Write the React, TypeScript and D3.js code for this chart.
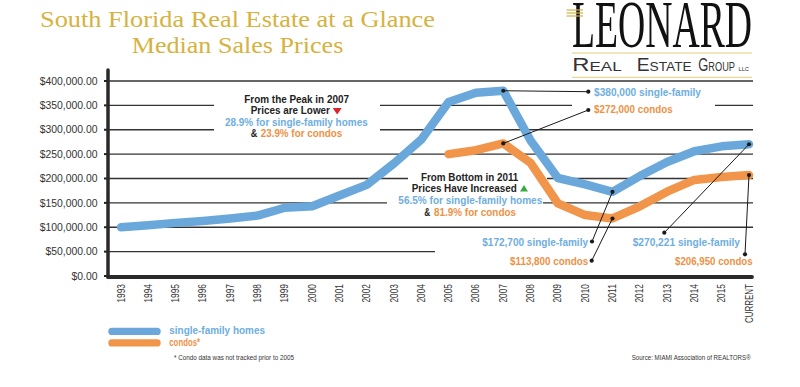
import React from 'react';
import * as d3 from 'd3';

// median sales prices
const categories = ['1993', '1994', '1995', '1996', '1997', '1998', '1999', '2000', '2001', '2002', '2003', '2004',
  '2005', '2006', '2007', '2008', '2009', '2010', '2011', '2012', '2013', '2014', '2015', 'CURRENT'];
const singleFamily = [100000, 104000, 109000, 113000, 118000, 124000, 140000, 143000, 165000, 187000, 231000, 280000,
  357000, 376000, 380000, 278000, 201000, 188000, 172700, 205000, 234000, 256000, 266000, 270221];
// condo data not tracked before 2005
const condos: (number | null)[] = [null, null, null, null, null, null, null, null, null, null, null, null,
  250000, 258000, 272000, 232000, 149000, 125000, 118000, 143000, 173000, 197000, 203000, 206950];
const yTicks = [0, 50000, 100000, 150000, 200000, 250000, 300000, 350000, 400000];

const peakNote = ['From the Peak in 2007', 'Prices are Lower', '28.9% for single-family homes', '23.9% for condos'];
const bottomNote = ['From Bottom in 2011', 'Prices Have Increased', '56.5% for single-family homes', '81.9% for condos'];

const BLUE = '#6aa8dc';
const BLUE_TXT = '#6eaee0';
const ORANGE = '#f0954a';
const ORANGE_TXT = '#ee9145';
const GOLD = '#d6b240';
const SANS = "'Liberation Sans', Arial, Helvetica, sans-serif";
const SERIF = "'Liberation Serif', 'Times New Roman', serif";

const W = 800, H = 387;

const x = d3.scalePoint<string>().domain(categories).range([121, 749]);
const y = d3.scaleLinear().domain([0, 400000]).range([276, 81]);
const fmt = (v: number) => '$' + d3.format(',.2f')(v);

const lineGen = d3.line<number | null>()
  .defined(d => d != null)
  .x((_, i) => x(categories[i]) as number)
  .y(d => y(d as number));

// callouts: label + where its dot sits, tied to a data point
const callouts = [
  { text: '$380,000 single-family', color: BLUE_TXT, data: singleFamily, cat: '2007', tx: 594, ty: 95.5, tw: 107, dx: 588.3, dy: 91.7 },
  { text: '$272,000 condos', color: ORANGE_TXT, data: condos, cat: '2007', tx: 594, ty: 113.3, tw: 78.7, dx: 588.3, dy: 110 },
  { text: '$172,700 single-family', color: BLUE_TXT, data: singleFamily, cat: '2011', tx: 482.3, ty: 245.5, tw: 105.7, dx: 592, dy: 241.5 },
  { text: '$113,800 condos', color: ORANGE_TXT, data: condos, cat: '2011', tx: 510, ty: 264.5, tw: 78.3, dx: 591.7, dy: 260.7 },
  { text: '$270,221 single-family', color: BLUE_TXT, data: singleFamily, cat: 'CURRENT', tx: 632.7, ty: 245.5, tw: 107.3, dx: 664.3, dy: 232.7 },
  { text: '$206,950 condos', color: ORANGE_TXT, data: condos, cat: 'CURRENT', tx: 675, ty: 264.5, tw: 77.7, dx: 745, dy: 254.3 },
];

const Txt = ({ x, y, w, size = 11, fill = '#222', weight = 'bold', family = SANS, children }: any) => (
  <text x={x} y={y} fontSize={size} fill={fill} fontWeight={weight} fontFamily={family}
    textLength={w} lengthAdjust="spacingAndGlyphs">{children}</text>
);

export default function App() {
  const x0 = 108, x1 = 753;

  return (
    <svg width={W} height={H} style={{ position: 'absolute', left: 0, top: 0, background: '#fff' }}>
      <rect width={W} height={H} fill="#fff" />

      {/* title */}
      <Txt x={40} y={26.7} w={395} size={24} fill={GOLD} weight="normal" family={SERIF}>South Florida Real Estate at a Glance</Txt>
      <Txt x={131.7} y={53.3} w={211.6} size={24} fill={GOLD} weight="normal" family={SERIF}>Median Sales Prices</Txt>

      {/* logo */}
      <g>
        <text transform="translate(572,47) scale(1,1.45)" fontSize={46} fill="#111" fontFamily={SERIF}
          textLength={180} lengthAdjust="spacingAndGlyphs">LEONARD</text>
        {[10, 13, 16].map(v => <line key={v} x1={566.5} x2={583} y1={v} y2={v} stroke={GOLD} strokeWidth={1.2} />)}
        <line x1={572} x2={752} y1={53} y2={53} stroke="#e2cd7c" strokeWidth={1} />
        <line x1={572} x2={752} y1={77.3} y2={77.3} stroke="#e2cd7c" strokeWidth={1} />
        <text x={572.3} y={71} fill="#333" fontFamily={SANS} fontWeight="normal" textLength={49.4} lengthAdjust="spacingAndGlyphs">
          <tspan fontSize={17.5}>R</tspan><tspan fontSize={12.5}>EAL</tspan></text>
        <text x={636.7} y={71} fill="#333" fontFamily={SANS} textLength={55} lengthAdjust="spacingAndGlyphs">
          <tspan fontSize={17.5}>E</tspan><tspan fontSize={12.5}>STATE</tspan></text>
        <text x={698.3} y={71} fill="#333" fontFamily={SANS} textLength={36.7} lengthAdjust="spacingAndGlyphs">
          <tspan fontSize={17.5}>G</tspan><tspan fontSize={12.5}>ROUP</tspan></text>
        <text x={738.5} y={71} fill="#333" fontFamily={SANS} fontSize={5.5} textLength={10.5} lengthAdjust="spacingAndGlyphs">LLC</text>
      </g>

      {/* grid + y labels */}
      {yTicks.map(t => (
        <g key={t}>
          {t > 0 && <line x1={x0} x2={x1} y1={y(t)} y2={y(t)} stroke="#333" strokeWidth={1.3} />}
          <line x1={104} x2={x0} y1={y(t)} y2={y(t)} stroke="#222" strokeWidth={2} />
          <text x={97.5} y={y(t)} dy="0.36em" textAnchor="end" fontSize={10.4} fill="#333" fontFamily={SANS}>{fmt(t)}</text>
        </g>
      ))}

      {/* gaps in the grid behind the notes */}
      <rect x={214} y={96} width={166} height={38} fill="#fff" />
      <rect x={572} y={100} width={143} height={10} fill="#fff" />
      <rect x={408} y={174} width={139} height={9} fill="#fff" />
      <rect x={387} y={198} width={156} height={9} fill="#fff" />
      <rect x={435} y={247} width={320} height={9} fill="#fff" />

      {/* axes */}
      <line x1={x0} x2={x0} y1={70} y2={277} stroke="#2a2a2a" strokeWidth={3.5} strokeLinecap="round" />
      <line x1={x0} x2={752} y1={277} y2={277} stroke="#2a2a2a" strokeWidth={3.8} strokeLinecap="round" />

      {/* x labels */}
      {categories.map(c => (
        <text key={c} transform={`translate(${x(c)},284) rotate(-90)`} textAnchor="end" dy="0.35em"
          fontSize={10} fill="#333" fontFamily={SANS}
          textLength={c === 'CURRENT' ? 39 : 18.5} lengthAdjust="spacingAndGlyphs">{c}</text>
      ))}

      {/* series */}
      <path d={lineGen(singleFamily) as string} fill="none" stroke={BLUE} strokeWidth={8.5} strokeLinejoin="round" strokeLinecap="round" />
      <path d={lineGen(condos) as string} fill="none" stroke={ORANGE} strokeWidth={8.5} strokeLinejoin="round" strokeLinecap="round" />

      {/* peak note */}
      <Txt x={244.3} y={102.7} w={104.7}>{peakNote[0]}</Txt>
      <Txt x={250.7} y={114.3} w={79.3}>{peakNote[1]}</Txt>
      <path d="M332.7,108 L341.7,108 L337.2,114.6 Z" fill="#d9262b" />
      <Txt x={225} y={125.5} w={142.7} fill={BLUE_TXT}>{peakNote[2]}</Txt>
      <Txt x={250.7} y={136.7} w={6.6}>&amp;</Txt>
      <Txt x={260.7} y={136.7} w={81.6} fill={ORANGE_TXT}>{peakNote[3]}</Txt>

      {/* bottom note */}
      <Txt x={421} y={180.7} w={97.3}>{bottomNote[0]}</Txt>
      <Txt x={411.7} y={192.3} w={105}>{bottomNote[1]}</Txt>
      <path d="M520,191.5 L528,191.5 L524,185 Z" fill="#3aa845" />
      <Txt x={398.3} y={204} w={144} fill={BLUE_TXT}>{bottomNote[2]}</Txt>
      <Txt x={424.3} y={215.7} w={6}>&amp;</Txt>
      <Txt x={434} y={215.7} w={82} fill={ORANGE_TXT}>{bottomNote[3]}</Txt>

      {/* callouts */}
      {callouts.map(c => {
        const i = categories.indexOf(c.cat);
        const px = x(c.cat) as number, py = y(c.data[i] as number);
        return (
          <g key={c.text}>
            <line x1={px} y1={py} x2={c.dx} y2={c.dy} stroke="#1a1a1a" strokeWidth={1} />
            <circle cx={px} cy={py} r={2.1} fill="#1a1a1a" />
            <circle cx={c.dx} cy={c.dy} r={2.1} fill="#1a1a1a" />
            <Txt x={c.tx} y={c.ty} w={c.tw} size={11.5} fill={c.color}>{c.text}</Txt>
          </g>
        );
      })}

      {/* legend */}
      <rect x={108.3} y={327.7} width={52.4} height={7.3} rx={3.6} fill={BLUE} />
      <rect x={108.3} y={339.2} width={52.4} height={7.3} rx={3.6} fill={ORANGE} />
      <Txt x={169.3} y={334} w={95.7} size={11} fill={BLUE_TXT}>single-family homes</Txt>
      <Txt x={169.3} y={346} w={30.7} size={11} fill={ORANGE_TXT}>condos*</Txt>

      {/* footnotes */}
      <Txt x={174} y={360} w={120} size={7.5} fill="#333" weight="normal">* Condo data was not tracked prior to 2005</Txt>
      <Txt x={631.7} y={360} w={119} size={7.5} fill="#333" weight="normal">Source: MIAMI Association of REALTORS®</Txt>
    </svg>
  );
}
